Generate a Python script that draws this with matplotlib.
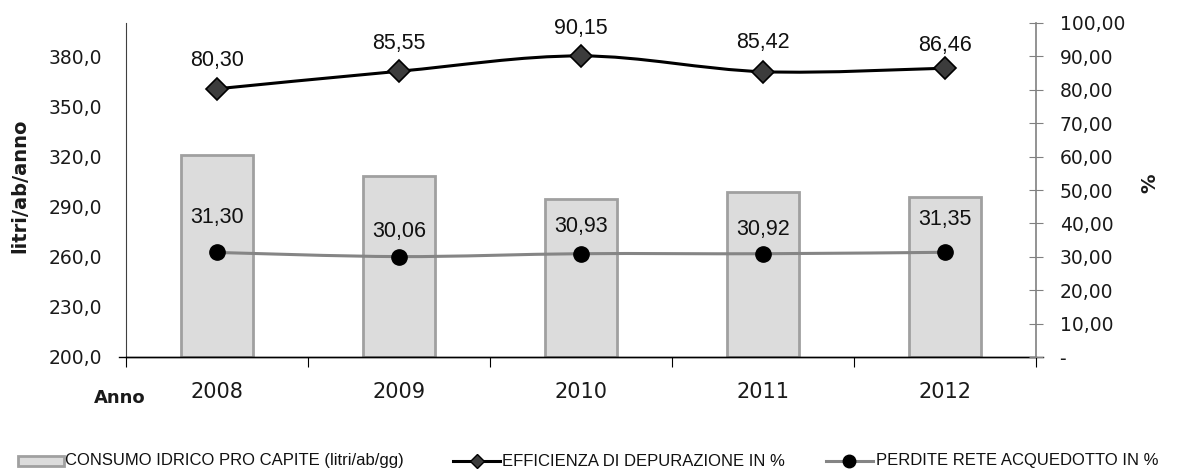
import matplotlib
matplotlib.use("Agg")
import matplotlib.pyplot as plt
from matplotlib.path import Path
from matplotlib.patches import PathPatch, Rectangle
from matplotlib.lines import Line2D
import numpy as np

# ---- data ----
anni = ["2008", "2009", "2010", "2011", "2012"]
consumo = [321.2, 308.4, 294.4, 298.8, 295.9]          # litri/ab/anno (left axis)
efficienza = [80.30, 85.55, 90.15, 85.42, 86.46]        # % (right axis)
perdite = [31.30, 30.06, 30.93, 30.92, 31.35]           # % (right axis)

left_ticks = [200, 230, 260, 290, 320, 350, 380]
right_ticks = [0, 10, 20, 30, 40, 50, 60, 70, 80, 90, 100]

# label offsets above each marker (pixels)
eff_label_off = [28, 28, 27, 29, 23]
per_label_off = [35, 25, 27, 24, 33]

FONT_AX = "DejaVu Sans"
FONT_TXT = "Liberation Sans"

fig = plt.figure(figsize=(11.78, 4.70), dpi=100)
W, H = 1178, 470
ax = fig.add_axes([126 / W, 1 - 357 / H, (1036 - 126) / W, (357 - 23) / H])
ax2 = ax.twinx()

x = np.arange(len(anni))

# bars
ax.bar(x, [c - 200 for c in consumo], bottom=200, width=0.4,
       color="#dcdcdc", edgecolor="#a0a0a0", linewidth=2.0, zorder=2)
ax.set_xlim(-0.5, len(anni) - 0.5)
ax.set_ylim(200, 400)
ax.set_yticks(left_ticks)
ax.set_yticklabels([f"{v:.1f}".replace(".", ",") for v in left_ticks],
                   fontfamily=FONT_AX, fontsize=13.5)
ax.tick_params(axis="y", length=0, pad=17, colors="#1a1a1a")

# x axis: boundary ticks, labels at category centres
ax.set_xticks(np.arange(-0.5, len(anni) + 0.5, 1.0))
ax.set_xticklabels([])
ax.set_xticks(x, minor=True)
ax.set_xticklabels(anni, minor=True, fontfamily=FONT_AX, fontsize=15)
ax.tick_params(axis="x", which="major", length=7, direction="out", color="black")
ax.tick_params(axis="x", which="minor", length=0, pad=18, colors="#1a1a1a")

for s in ["top", "right"]:
    ax.spines[s].set_visible(False)
ax.spines["left"].set_color("#404040")
ax.spines["bottom"].set_color("black")
ax.spines["bottom"].set_linewidth(1.0)
ax.plot([-0.008, 1.008], [0, 0], transform=ax.transAxes, color="black",
        lw=1.0, clip_on=False, zorder=5)

# right axis
ax2.set_ylim(0, 100)
ax2.set_yticks(right_ticks)
ax2.set_yticklabels(["-" if v == 0 else f"{v:.2f}".replace(".", ",") for v in right_ticks],
                    fontfamily=FONT_AX, fontsize=13.5)
ax2.tick_params(axis="y", direction="inout", length=10, pad=12, color="#808080",
                labelcolor="#1a1a1a")
for s in ["top", "left", "bottom"]:
    ax2.spines[s].set_visible(False)
ax2.spines["right"].set_color("#808080")
ax2.spines["right"].set_linewidth(1.2)


def smooth_path(xs, ys):
    """Cubic Bezier path through the points (Catmull-Rom style tangents)."""
    pts = np.column_stack([xs, ys]).astype(float)
    verts = [pts[0]]
    codes = [Path.MOVETO]
    n = len(pts)
    for i in range(n - 1):
        p0 = pts[i - 1] if i > 0 else pts[i]
        p1 = pts[i]
        p2 = pts[i + 1]
        p3 = pts[i + 2] if i + 2 < n else pts[i + 1]
        c1 = p1 + (p2 - p0) / 6.0
        c2 = p2 - (p3 - p1) / 6.0
        verts += [c1, c2, p2]
        codes += [Path.CURVE4] * 3
    return Path(verts, codes)


# efficiency line
ax2.add_patch(PathPatch(smooth_path(x, efficienza), facecolor="none",
                        edgecolor="black", lw=2.2, zorder=3))
ax2.plot(x, efficienza, ls="none", marker="D", markersize=11,
         markerfacecolor="#3c3c3c", markeredgecolor="black", markeredgewidth=1.2, zorder=4)

# losses line
ax2.add_patch(PathPatch(smooth_path(x, perdite), facecolor="none",
                        edgecolor="#858585", lw=2.2, zorder=3))
ax2.plot(x, perdite, ls="none", marker="o", markersize=11,
         markerfacecolor="black", markeredgecolor="black", zorder=4)

for xi, v, off in zip(x, efficienza, eff_label_off):
    ax2.annotate(f"{v:.2f}".replace(".", ","), (xi, v), xytext=(0, off * 0.72),
                 textcoords="offset points", ha="center", va="center",
                 fontfamily=FONT_TXT, fontsize=15.5, color="#111111", zorder=6)
for xi, v, off in zip(x, perdite, per_label_off):
    ax2.annotate(f"{v:.2f}".replace(".", ","), (xi, v), xytext=(0, off * 0.72),
                 textcoords="offset points", ha="center", va="center",
                 fontfamily=FONT_TXT, fontsize=15.5, color="#111111", zorder=6)

# axis titles
fig.text(20 / W, 1 - 186 / H, "litri/ab/anno", rotation=90, ha="center", va="center",
         fontfamily=FONT_AX, fontweight="bold", fontsize=14, color="#1a1a1a")
fig.text(94 / W, 1 - 398 / H, "Anno", ha="left", va="center",
         fontfamily=FONT_AX, fontweight="bold", fontsize=13, color="#1a1a1a")
fig.text(1150 / W, 1 - 183 / H, "%", rotation=90, ha="center", va="center",
         fontfamily=FONT_AX, fontweight="bold", fontsize=14, color="#1a1a1a")

# legend
ly = 1 - 461 / H
fig.patches.append(Rectangle((18 / W, 1 - 466 / H), 46 / W, 10 / H, transform=fig.transFigure,
                             facecolor="#dcdcdc", edgecolor="#a0a0a0", lw=2.0))
fig.text(65 / W, ly, "CONSUMO IDRICO PRO CAPITE (litri/ab/gg)", ha="left", va="center",
         fontfamily=FONT_TXT, fontsize=12, color="#111111")
fig.lines.append(Line2D([453 / W, 500 / W], [ly, ly], transform=fig.transFigure,
                        color="black", lw=2.2, marker=None))
fig.lines.append(Line2D([476.5 / W], [ly], transform=fig.transFigure, ls="none",
                        marker="D", markersize=7, markerfacecolor="#3c3c3c",
                        markeredgecolor="black"))
fig.text(502 / W, ly, "EFFICIENZA DI DEPURAZIONE IN %", ha="left", va="center",
         fontfamily=FONT_TXT, fontsize=12, color="#111111")
fig.lines.append(Line2D([826 / W, 873 / W], [ly, ly], transform=fig.transFigure,
                        color="#858585", lw=2.2))
fig.lines.append(Line2D([849.5 / W], [ly], transform=fig.transFigure, ls="none",
                        marker="o", markersize=9, markerfacecolor="black",
                        markeredgecolor="black"))
fig.text(876 / W, ly, "PERDITE RETE ACQUEDOTTO IN %", ha="left", va="center",
         fontfamily=FONT_TXT, fontsize=12, color="#111111")

fig.savefig("out.png", dpi=100)
